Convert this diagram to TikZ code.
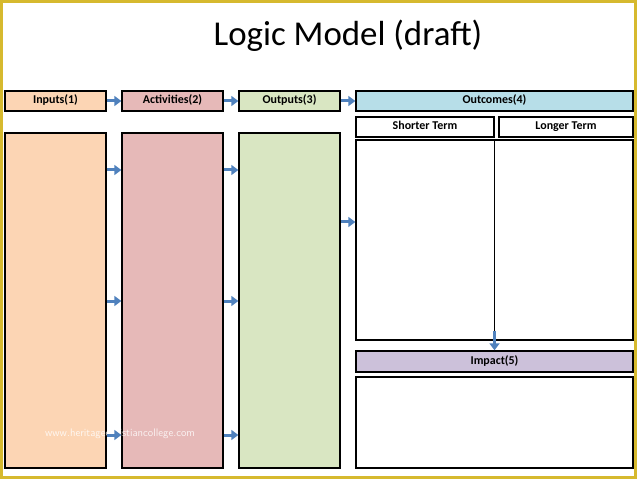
\documentclass[tikz,border=0pt]{standalone}
\usepackage{fontspec}
\setmainfont{Carlito}
\usetikzlibrary{arrows.meta}
\definecolor{inputsfill}{HTML}{FCD5B4}
\definecolor{activfill}{HTML}{E6B9B8}
\definecolor{outputsfill}{HTML}{D9E6C2}
\definecolor{outcomesfill}{HTML}{B7DEE8}
\definecolor{impactfill}{HTML}{CCC1DA}
\definecolor{arrowblue}{HTML}{4F81BD}
\definecolor{slideframe}{HTML}{D6B92E}
\tikzset{ hdr/.style = { rectangle % header bar
        , draw
        , line width = 1.4bp
        , inner sep = 0pt
        , minimum height = 20bp
        , text height = 1.5ex
        , text depth = .3ex
        , font = \fontsize{12}{14}\selectfont\bfseries
        }
        , col/.style = { rectangle % column body
        , draw
        , line width = 1.4bp
        , inner sep = 0pt
        , minimum width = 101bp
        , minimum height = 335bp
        }
        }

\begin{document}
\begin{tikzpicture}[x=1bp, y=-1bp,
        arrow_style/.style={draw=arrowblue, line width=3bp, -{Triangle[length=7bp,width=10bp]}},
        box_style/.style={rectangle, draw, line width=1.4bp, inner sep=0pt, fill=white}]
        \useasboundingbox (0,0) rectangle (638,479);
        \draw [slideframe, line width=3bp] (1.5,1.5) rectangle (635.5,477.5);

        \node (title) at (348,36) {\fontsize{35}{40}\selectfont Logic Model (draft)};

        \node [hdr, fill=inputsfill, minimum width=101bp](in_hdr) at (55.5,101) {Inputs(1)};
        \node [hdr, fill=activfill, minimum width=101bp](act_hdr) at (172.5,101) {Activities(2)};
        \node [hdr, fill=outputsfill, minimum width=101bp](out_hdr) at (289.5,101) {Outputs(3)};
        \node [hdr, fill=outcomesfill, minimum width=277bp](oc_hdr) at (494.5,101) {Outcomes(4)};
        \node [hdr, fill=white, minimum width=138bp](st_hdr) at (425,127) {Shorter Term};
        \node [hdr, fill=white, minimum width=134bp](lt_hdr) at (566,127) {Longer Term};

        \node [col, fill=inputsfill](in_col) at (55.5,300.5) {};
        \node [col, fill=activfill](act_col) at (172.5,300.5) {};
        \node [col, fill=outputsfill](out_col) at (289.5,300.5) {};

        \node [box_style, minimum width=277bp, minimum height=200bp](oc_box) at (494.5,240) {};
        \draw [line width=1.2bp] (oc_box.north) -- (oc_box.south);
        \node [hdr, fill=impactfill, minimum width=277bp, minimum height=21bp](imp_hdr) at (494.5,361.5) {Impact(5)};
        \node [box_style, minimum width=277bp, minimum height=91bp](imp_box) at (494.5,422.5) {};

        \node [white, opacity=0.8, font=\sffamily\fontsize{11}{12}\selectfont](mark) at (120,434) {www.heritagechristiancollege.com};

        \draw [arrow_style] (in_hdr) -- (act_hdr);
        \draw [arrow_style] (act_hdr) -- (out_hdr);
        \draw [arrow_style] (out_hdr) -- (oc_hdr);
        \foreach \y in {170,301,435} {
            \draw [arrow_style] (in_col.east |- 0,\y) -- (act_col.west |- 0,\y);
            \draw [arrow_style] (act_col.east |- 0,\y) -- (out_col.west |- 0,\y);
        }
        \draw [arrow_style] (out_col.east |- 0,222) -- (oc_box.west |- 0,222);
        \coordinate (split) at ([yshift=10bp]oc_box.south);
        \draw [arrow_style, line width=2.4bp] (split) -- (imp_hdr.north);
\end{tikzpicture}
\end{document}
